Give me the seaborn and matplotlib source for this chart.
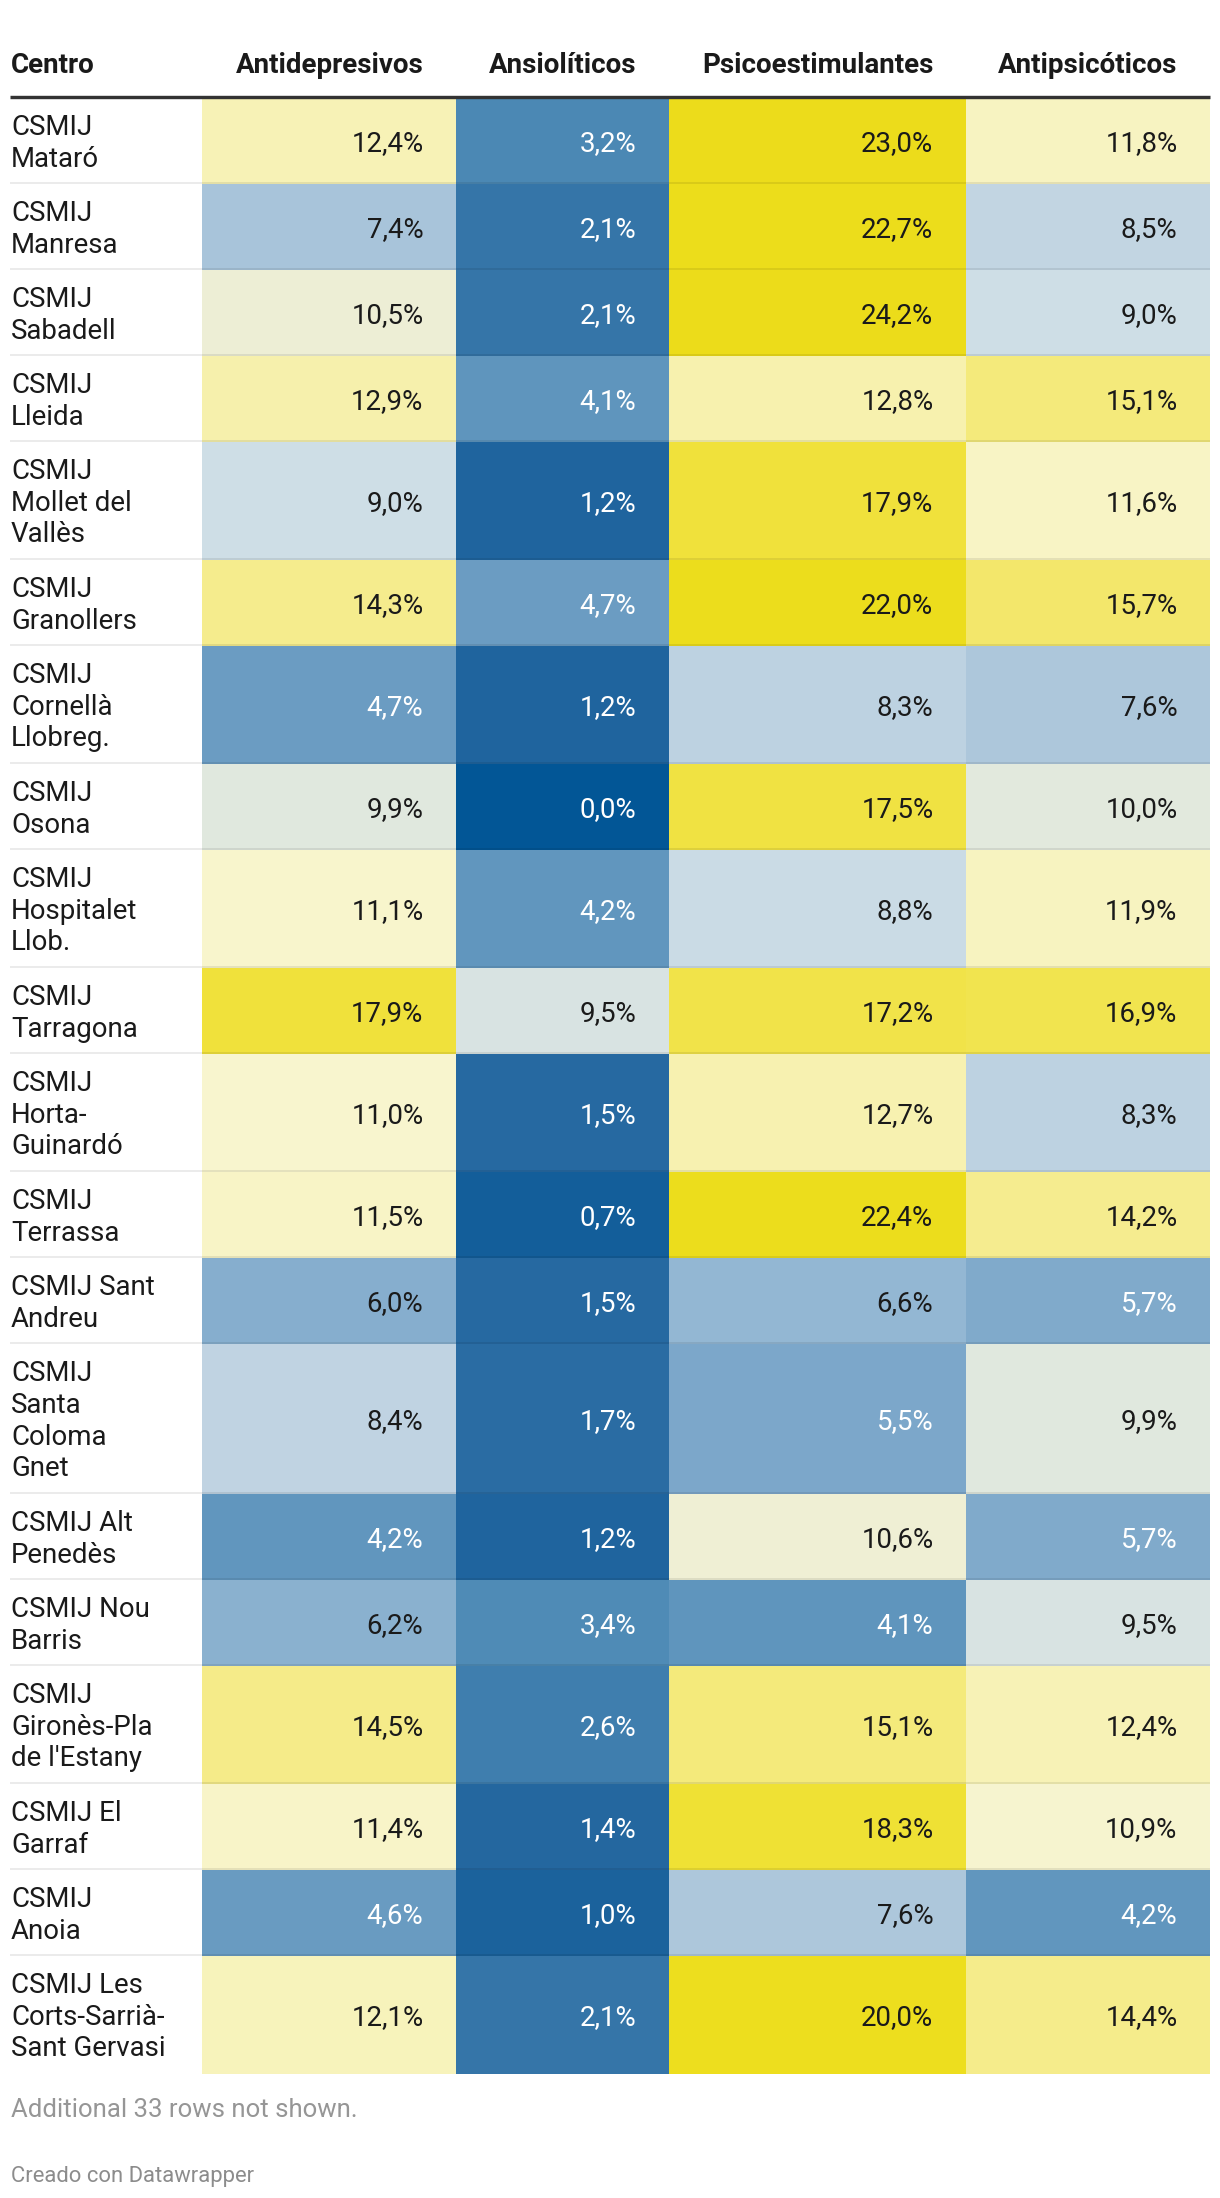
import numpy as np
import pandas as pd
import matplotlib
matplotlib.use("Agg")
import matplotlib.pyplot as plt
import seaborn as sns
from matplotlib.colors import LinearSegmentedColormap

# ---------------- data ----------------
centros = [
    "CSMIJ\nMataró", "CSMIJ\nManresa", "CSMIJ\nSabadell", "CSMIJ\nLleida",
    "CSMIJ\nMollet del\nVallès", "CSMIJ\nGranollers", "CSMIJ\nCornellà\nLlobreg.",
    "CSMIJ\nOsona", "CSMIJ\nHospitalet\nLlob.", "CSMIJ\nTarragona",
    "CSMIJ\nHorta-\nGuinardó", "CSMIJ\nTerrassa", "CSMIJ Sant\nAndreu",
    "CSMIJ\nSanta\nColoma\nGnet", "CSMIJ Alt\nPenedès", "CSMIJ Nou\nBarris",
    "CSMIJ\nGironès-Pla\nde l'Estany", "CSMIJ El\nGarraf", "CSMIJ\nAnoia",
    "CSMIJ Les\nCorts-Sarrià-\nSant Gervasi",
]
antidepresivos = [12.4, 7.4, 10.5, 12.9, 9.0, 14.3, 4.7, 9.9, 11.1, 17.9,
                  11.0, 11.5, 6.0, 8.4, 4.2, 6.2, 14.5, 11.4, 4.6, 12.1]
ansioliticos = [3.2, 2.1, 2.1, 4.1, 1.2, 4.7, 1.2, 0.0, 4.2, 9.5,
                1.5, 0.7, 1.5, 1.7, 1.2, 3.4, 2.6, 1.4, 1.0, 2.1]
psicoestimulantes = [23.0, 22.7, 24.2, 12.8, 17.9, 22.0, 8.3, 17.5, 8.8, 17.2,
                     12.7, 22.4, 6.6, 5.5, 10.6, 4.1, 15.1, 18.3, 7.6, 20.0]
antipsicoticos = [11.8, 8.5, 9.0, 15.1, 11.6, 15.7, 7.6, 10.0, 11.9, 16.9,
                  8.3, 14.2, 5.7, 9.9, 5.7, 9.5, 12.4, 10.9, 4.2, 14.4]
header_first = "Centro"
columnas = ["Antidepresivos", "Ansiolíticos", "Psicoestimulantes", "Antipsicóticos"]
nota = "Additional 33 rows not shown."
credito = "Creado con Datawrapper"

df = pd.DataFrame({columnas[0]: antidepresivos, columnas[1]: ansioliticos,
                   columnas[2]: psicoestimulantes, columnas[3]: antipsicoticos},
                  index=centros)

# ---------------- style ----------------
sns.set_theme(style="white")
plt.rcParams['font.family'] = ['Roboto', 'DejaVu Sans']

VMAX = 24.2
anchors = [
    (0.0, (2, 86, 150)), (1.2, (33, 101, 158)), (3.2, (77, 137, 181)),
    (6.0, (134, 174, 206)), (8.4, (193, 212, 226)), (9.0, (206, 222, 230)),
    (9.9, (225, 232, 222)), (10.5, (236, 237, 214)), (11.0, (248, 245, 206)),
    (12.4, (247, 242, 183)), (14.3, (245, 236, 142)), (17.2, (241, 227, 72)),
    (19.6, (237, 222, 30)), (24.2, (236, 220, 26)),
]
cmap = LinearSegmentedColormap.from_list(
    "dw", [(v / VMAX, tuple(c / 255 for c in rgb)) for v, rgb in anchors])

W, H, DPI = 1220, 2198, 100
def pt(p):
    return p * 72 / DPI

fig = plt.figure(figsize=(W / DPI, H / DPI), dpi=DPI)
fig.patch.set_facecolor("white")

col_edges = [202, 456, 669, 966, 1210]
TOP = 98
PAD, LINE = 22, 32
nlines = [len(c.split("\n")) for c in centros]
heights = [PAD + LINE * n for n in nlines]
row_edges = [TOP]
for h in heights:
    row_edges.append(row_edges[-1] + h)

# ---------------- cells (seaborn heatmaps) ----------------
for r, centro in enumerate(df.index):
    y0, y1 = row_edges[r], row_edges[r + 1]
    for c, col in enumerate(df.columns):
        x0, x1 = col_edges[c], col_edges[c + 1]
        ax = fig.add_axes([x0 / W, 1 - y1 / H, (x1 - x0) / W, (y1 - y0) / H])
        sns.heatmap(df.loc[[centro], [col]].values, ax=ax, cmap=cmap, vmin=0, vmax=VMAX,
                    cbar=False, xticklabels=False, yticklabels=False, linewidths=0)
        ax.axis("off")

# ---------------- overlay: text & rules ----------------
ov = fig.add_axes([0, 0, 1, 1], facecolor="none", label="overlay")
ov.set_xlim(0, W)
ov.set_ylim(H, 0)
ov.axis("off")

TXT = "#1a1a1a"
BODY = pt(27.6)
HEAD = pt(27.8)
CAP = 9.8
RPAD = 32.5

ov.text(11, 73, header_first, fontsize=HEAD, fontweight="bold", color=TXT,
        ha="left", va="baseline")
for c, col in enumerate(columnas):
    ov.text(col_edges[c + 1] - RPAD, 73, col, fontsize=HEAD, fontweight="bold",
            color=TXT, ha="right", va="baseline")
ov.plot([10, 1210], [96.6, 96.6], color="#333333", lw=pt(3.4), solid_capstyle="butt")

for r, centro in enumerate(df.index):
    y0, y1 = row_edges[r], row_edges[r + 1]
    cy = (y0 + y1) / 2
    lines = centro.split("\n")
    n = len(lines)
    for i, ln in enumerate(lines):
        ov.text(11, cy + (i - (n - 1) / 2) * 31.7 + CAP, ln, fontsize=BODY,
                color=TXT, ha="left", va="baseline")
    for c, col in enumerate(df.columns):
        v = df.loc[centro, col]
        s = f"{v:.1f}%".replace(".", ",")
        color = "white" if v < 5.85 else TXT
        ov.text(col_edges[c + 1] - RPAD, cy + CAP, s, fontsize=BODY, color=color,
                ha="right", va="baseline")
    if r < len(centros) - 1:
        ov.plot([10, 1210], [y1 - 1, y1 - 1], color="black", alpha=0.08, lw=pt(2),
                solid_capstyle="butt")

ov.text(11, 2117, nota, fontsize=pt(25.8), color="#969696", ha="left", va="baseline")
ov.text(11, 2182, credito, fontsize=pt(22.0), color="#8c8c8c", ha="left", va="baseline")

fig.savefig("out.png", dpi=DPI, facecolor="white")
